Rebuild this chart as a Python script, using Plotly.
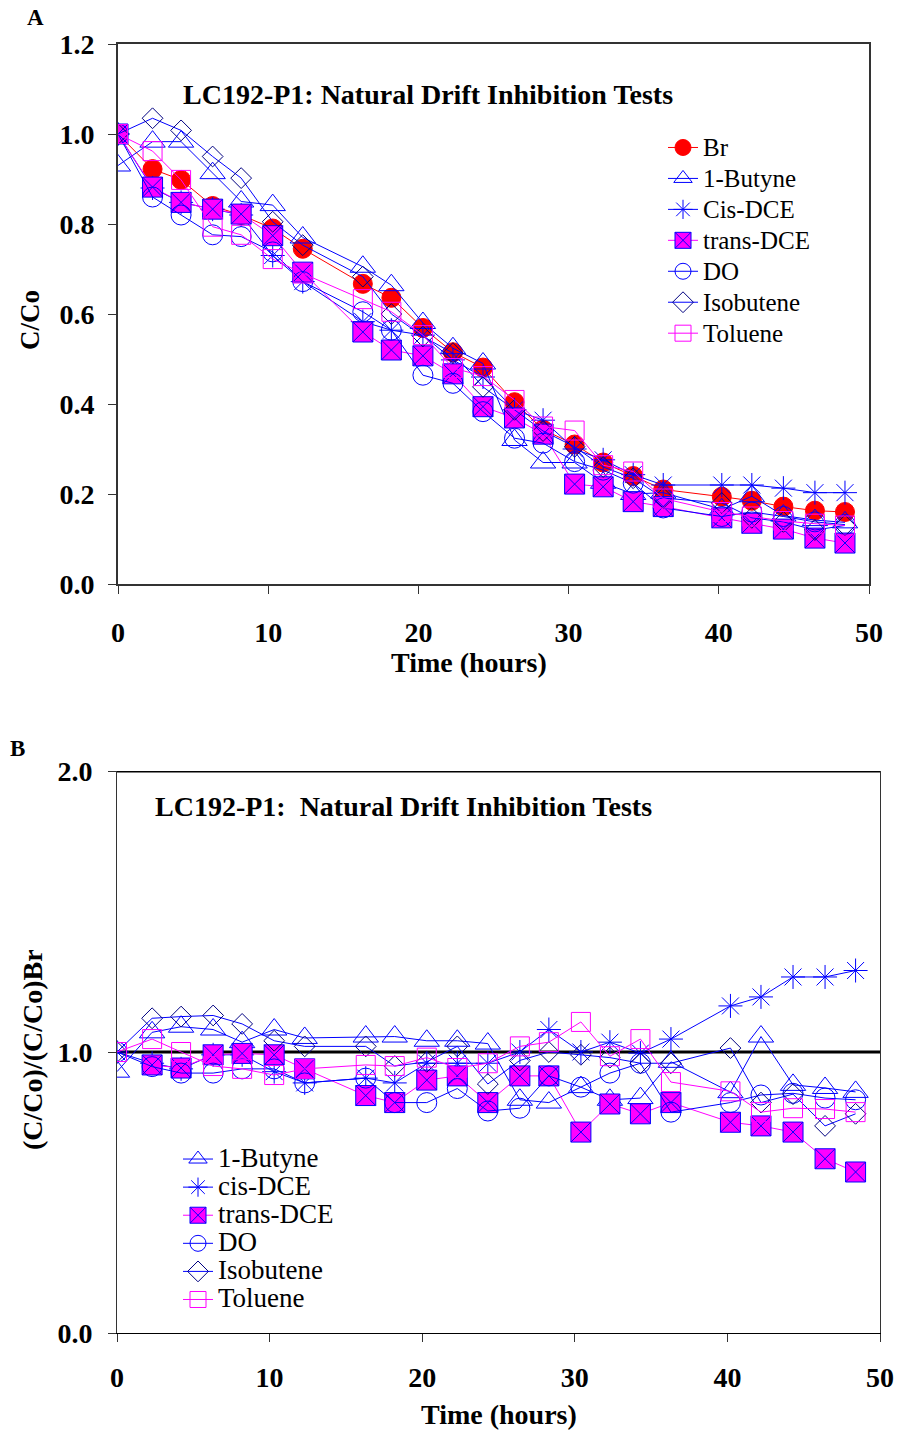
import plotly.graph_objects as go

W, H = 898, 1430

# sampling times (hours), shared by both panels
hours = [0, 2.3, 4.2, 6.3, 8.2, 10.3, 12.3, 16.3, 18.2, 20.3, 22.3, 24.3,
         26.4, 28.3, 30.4, 32.3, 34.3, 36.3, 40.2, 42.2, 44.3, 46.4, 48.4]

# Panel A: C/Co
br = [1.0, 0.922, 0.898, 0.840, 0.820, 0.790, 0.745, 0.667, 0.636, 0.569, 0.515, 0.481,
      0.404, 0.343, 0.310, 0.270, 0.240, 0.210, 0.194, 0.185, 0.172, 0.163, 0.160]
butyne = [0.93, 0.983, 0.983, 0.913, 0.85, 0.842, 0.77, 0.705, 0.664, 0.58, 0.524, 0.49,
          0.32, 0.27, 0.27, 0.225, 0.20, 0.203, 0.166, 0.195, 0.152, 0.142, 0.137]
cis_dce = [1.0, 0.88, 0.848, 0.833, 0.82, 0.73, 0.672, 0.583, 0.564, 0.553, 0.498, 0.46,
           0.387, 0.364, 0.30, 0.276, 0.243, 0.22, 0.22, 0.22, 0.213, 0.203, 0.203]
trans_dce = [1.0, 0.882, 0.848, 0.833, 0.822, 0.774, 0.693, 0.56, 0.52, 0.507, 0.467, 0.394,
             0.369, 0.333, 0.222, 0.216, 0.183, 0.172, 0.147, 0.135, 0.122, 0.102, 0.091]
do = [1.0, 0.86, 0.82, 0.776, 0.772, 0.738, 0.672, 0.605, 0.564, 0.464, 0.446, 0.383,
      0.324, 0.313, 0.272, 0.253, 0.224, 0.169, 0.15, 0.16, 0.15, 0.138, 0.132]
isobutene = [1.0, 1.035, 1.008, 0.95, 0.902, 0.805, 0.753, 0.683, 0.60, 0.55, 0.513, 0.438,
             0.387, 0.34, 0.305, 0.26, 0.235, 0.191, 0.18, 0.147, 0.138, 0.12, 0.13]
toluene = [1.0, 0.962, 0.898, 0.794, 0.776, 0.722, 0.69, 0.633, 0.605, 0.553, 0.48, 0.462,
           0.409, 0.35, 0.341, 0.264, 0.25, 0.19, 0.16, 0.15, 0.14, 0.134, 0.13]

# Panel B: (C/Co)/(C/Co)Br
butyne_r = [0.93, 1.07, 1.09, 1.08, 1.035, 1.08, 1.05, 1.055, 1.055, 1.04, 1.04, 1.03,
            0.83, 0.82, 0.875, 0.83, 0.836, 0.965, 0.857, 1.055, 0.883, 0.872, 0.858]
cis_r = [1.0, 0.96, 0.94, 0.99, 0.99, 0.93, 0.89, 0.907, 0.89, 0.96, 0.96, 0.96,
         1.0, 1.08, 1.0, 1.035, 0.996, 1.046, 1.164, 1.196, 1.267, 1.267, 1.29]
trans_r = [None, 0.954, 0.943, 0.99, 0.995, 0.99, 0.94, 0.845, 0.82, 0.90, 0.915, 0.82,
           0.915, 0.915, 0.715, 0.815, 0.78, 0.82, 0.75, 0.737, 0.715, 0.62, 0.573]
do_r = [1.0, 0.948, 0.925, 0.925, 0.94, 0.94, 0.89, 0.907, 0.82, 0.82, 0.87, 0.79,
        0.80, 0.915, 0.875, 0.925, 0.96, 0.786, 0.82, 0.847, 0.853, 0.836, 0.83]
iso_r = [1.0, 1.12, 1.126, 1.13, 1.10, 1.04, 1.02, 1.02, 0.95, 0.965, 1.02, 0.886,
         0.97, 1.0, 0.99, 0.98, 0.96, 0.96, 1.014, 0.82, 0.85, 0.737, 0.78]
tol_r = [1.0, 1.046, 1.0, 0.95, 0.94, 0.918, 0.94, 0.954, 0.95, 0.98, 0.943, 0.96,
         1.02, 1.035, 1.107, 0.985, 1.046, 0.893, 0.86, 0.786, 0.80, 0.797, 0.786]

BLUE = "#0000ff"
NAVY = "#000080"
MAG = "#ff00ff"
RED = "#ff0000"
SERIF = "Liberation Serif, Times New Roman, serif"


# page pixel -> paper fraction
def px_x(p):
    return p / W


def px_y(p):
    return 1 - p / H


def big(name, size):
    # legend text drawn larger than the legend's own row height font
    return f"<span style='font-size:{size}px'>{name}</span>"


def series(name, y, line_color, symbol, size, mline, axis, legend, fill=None):
    return go.Scatter(
        x=hours, y=y, name=name, mode="lines+markers",
        xaxis=axis[0], yaxis=axis[1], legend=legend,
        line=dict(color=line_color, width=1),
        marker=dict(symbol=symbol, size=size,
                    color=fill if fill else mline,
                    line=dict(color=mline, width=1)),
        connectgaps=False,
    )


fig = go.Figure()

A = ("x", "y")
B = ("x2", "y2")
LA, LB = 25, 27

# panel A traces
fig.add_trace(series(big("Br", LA), br, RED, "circle", 19, RED, A, "legend"))
fig.add_trace(series(big("1-Butyne", LA), butyne, BLUE, "triangle-up-open", 22, BLUE, A, "legend"))
fig.add_trace(series(big("Cis-DCE", LA), cis_dce, BLUE, "asterisk-open", 20, BLUE, A, "legend"))
fig.add_trace(series(big("trans-DCE", LA), trans_dce, MAG, "square-x", 20, BLUE, A, "legend", fill=MAG))
fig.add_trace(series(big("DO", LA), do, BLUE, "circle-open", 20, BLUE, A, "legend"))
fig.add_trace(series(big("Isobutene", LA), isobutene, BLUE, "diamond-open", 16, NAVY, A, "legend"))
fig.add_trace(series(big("Toluene", LA), toluene, MAG, "square-open", 19, MAG, A, "legend"))

# panel B traces
fig.add_trace(series(big("1-Butyne", LB), butyne_r, BLUE, "triangle-up-open", 22, BLUE, B, "legend2"))
fig.add_trace(series(big("cis-DCE", LB), cis_r, BLUE, "asterisk-open", 20, BLUE, B, "legend2"))
fig.add_trace(series(big("trans-DCE", LB), trans_r, MAG, "square-x", 20, BLUE, B, "legend2", fill=MAG))
fig.add_trace(series(big("DO", LB), do_r, BLUE, "circle-open", 20, BLUE, B, "legend2"))
fig.add_trace(series(big("Isobutene", LB), iso_r, BLUE, "diamond-open", 16, NAVY, B, "legend2"))
fig.add_trace(series(big("Toluene", LB), tol_r, MAG, "square-open", 19, MAG, B, "legend2"))

tickfont = dict(family=SERIF, size=28, color="black", weight="bold")
axis_common = dict(showgrid=False, zeroline=False, ticks="outside", ticklen=8,
                   tickcolor="#333", tickfont=tickfont, automargin=False)

fig.update_layout(
    width=W, height=H,
    margin=dict(l=0, r=0, t=0, b=0),
    paper_bgcolor="white", plot_bgcolor="white",
    font=dict(family=SERIF, color="black"),
    xaxis=dict(domain=[px_x(118), px_x(869)], anchor="y", range=[0, 50], dtick=10,
               showline=True, linecolor="#333", linewidth=1.5, mirror=True,
               ticklabelstandoff=15, **axis_common),
    yaxis=dict(domain=[px_y(584), px_y(44)], anchor="x", range=[0, 1.2], dtick=0.2,
               tickformat=".1f", showline=True, linecolor="#333", linewidth=2, mirror=True,
               ticklabelstandoff=8, **axis_common),
    xaxis2=dict(domain=[px_x(117), px_x(880)], anchor="y2", range=[0, 50], dtick=10,
                showline=True, linecolor="black", linewidth=1, mirror=False,
                ticklabelstandoff=11, **axis_common),
    yaxis2=dict(domain=[px_y(1333), px_y(771)], anchor="x2", range=[0, 2], dtick=1,
                tickformat=".1f", showline=True, linecolor="#333", linewidth=1, mirror=True,
                ticklabelstandoff=10, **axis_common),
    legend=dict(x=px_x(663), y=px_y(127), xanchor="left", yanchor="top",
                bgcolor="rgba(0,0,0,0)", font=dict(family=SERIF, size=21.5, color="black"),
                tracegroupgap=0),
    legend2=dict(x=px_x(178), y=px_y(1140), xanchor="left", yanchor="top",
                 bgcolor="rgba(0,0,0,0)", font=dict(family=SERIF, size=19.3, color="black"),
                 tracegroupgap=0),
    showlegend=True,
)

# thick reference lines in panel B
fig.add_shape(type="line", xref="x2", yref="y2", x0=0, x1=50, y0=1, y1=1,
              line=dict(color="black", width=3), layer="below")
fig.add_shape(type="line", xref="x2", yref="y2", x0=0, x1=50, y0=2, y1=2,
              line=dict(color="black", width=3))


def label(text, x, y, size, angle=0):
    fig.add_annotation(text=f"<b>{text}</b>", xref="paper", yref="paper",
                       x=px_x(x), y=px_y(y), xanchor="center", yanchor="middle",
                       showarrow=False, textangle=angle,
                       font=dict(family=SERIF, size=size, color="black"))


label("A", 35, 18, 23)
label("B", 17, 748, 23)
label("LC192-P1: Natural Drift Inhibition Tests", 428, 94, 28)
label("LC192-P1:  Natural Drift Inhibition Tests", 403, 806, 28)
label("Time (hours)", 469, 662, 28)
label("Time (hours)", 499, 1414, 28)
label("C/Co", 30, 320, 27, angle=-90)
label("(C/Co)/(C/Co)Br", 32, 1050, 28, angle=-90)

# drop the default 8px body margin so the figure fills the window exactly
fig.write_html("out.html", config={"displayModeBar": False},
               post_script="document.body.style.margin='0';")
